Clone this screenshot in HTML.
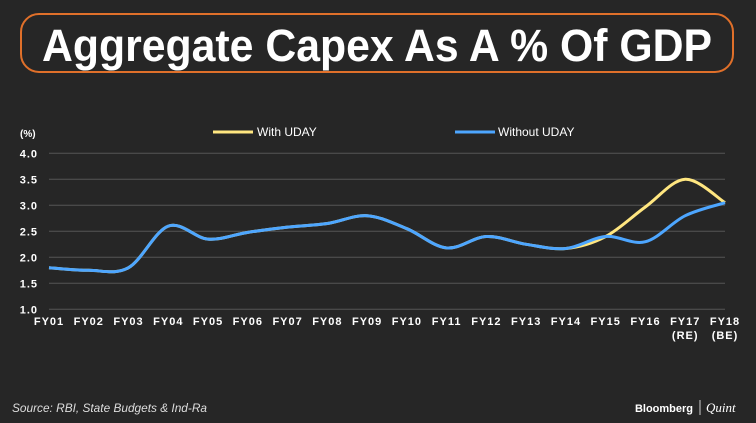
<!DOCTYPE html>
<html><head><meta charset="utf-8"><style>
body{margin:0;background:#262626;width:756px;height:423px;overflow:hidden;font-family:"Liberation Sans",sans-serif;}
</style></head><body>
<svg width="756" height="423" style="display:block">
<rect width="756" height="423" fill="#262626"/>
<rect x="21" y="14" width="712" height="58" rx="18" fill="#262626" stroke="#e0702a" stroke-width="2"/>
<text x="377" y="61" text-anchor="middle" fill="#fff" font-weight="bold" font-size="45" textLength="670" lengthAdjust="spacingAndGlyphs">Aggregate Capex As A % Of GDP</text>
<text x="20" y="137" fill="#fff" font-size="10" font-weight="bold">(%)</text>
<g id="grid"></g><g id="lines"></g>
<line x1="213" y1="132" x2="253" y2="132" stroke="#ffe680" stroke-width="3"/>
<text x="257" y="136" fill="#fff" font-size="12">With UDAY</text>
<line x1="455" y1="132" x2="495" y2="132" stroke="#4da6ff" stroke-width="3"/>
<text x="498" y="136" fill="#fff" font-size="12">Without UDAY</text>
<text x="12" y="412" fill="#ddd" font-size="12" font-style="italic" textLength="195" lengthAdjust="spacingAndGlyphs">Source: RBI, State Budgets &amp; Ind-Ra</text>
<text x="693" y="412" text-anchor="end" fill="#fff" font-size="11" font-weight="bold">Bloomberg</text>
<line x1="700" y1="400" x2="700" y2="415" stroke="#ccc"/>
<text x="706" y="412" fill="#fff" font-size="13" font-style="italic" font-family="Liberation Serif,serif">Quint</text>
</svg>
<script>
const categories=["FY01","FY02","FY03","FY04","FY05","FY06","FY07","FY08","FY09","FY10","FY11","FY12","FY13","FY14","FY15","FY16","FY17","FY18"];
const subLabels={"FY17":"(RE)","FY18":"(BE)"};
const yTicks=[1.0,1.5,2.0,2.5,3.0,3.5,4.0];
const withoutUday=[1.8,1.75,1.8,2.6,2.35,2.48,2.58,2.65,2.8,2.55,2.18,2.4,2.25,2.17,2.4,2.3,2.8,3.05];
const withUday=[1.8,1.75,1.8,2.6,2.35,2.48,2.58,2.65,2.8,2.55,2.18,2.4,2.25,2.17,2.4,2.97,3.5,3.05];
const NS="http://www.w3.org/2000/svg";
const x0=49,x1=725,yTop=153.3,yBot=309.3,ymin=1,ymax=4;
function X(i){return x0+i*(x1-x0)/(categories.length-1);}
function Y(v){return yBot-(v-ymin)/(ymax-ymin)*(yBot-yTop);}
function mk(t,a,p){const e=document.createElementNS(NS,t);for(const k in a)e.setAttribute(k,a[k]);p.appendChild(e);return e;}
const g=document.getElementById('grid');
yTicks.forEach(v=>{
 const l=mk('line',{x1:x0,x2:x1,y1:Y(v),y2:Y(v),stroke:'#555','stroke-width':1},g);
 
 
 const t=mk('text',{x:38,y:Y(v)+4,'text-anchor':'end',fill:'#fff','font-size':11,'font-weight':'bold','letter-spacing':'1'},g);
 t.textContent=v.toFixed(1);
 
 
});
categories.forEach((c,i)=>{
 const t=mk('text',{x:X(i),y:325,'text-anchor':'middle',fill:'#fff','font-size':11,'font-weight':'bold','letter-spacing':'1'},g);
 t.textContent=c;
 
 
 if(subLabels[c]){const s=mk('text',{x:X(i),y:339,'text-anchor':'middle',fill:'#fff','font-size':11,'font-weight':'bold','letter-spacing':'1'},g);
 s.textContent=subLabels[c];
 
 }
});
function path(vals){const p=vals.map((v,i)=>[X(i),Y(v)]);let d=`M${p[0][0]},${p[0][1]}`;
 for(let i=0;i<p.length-1;i++){const a=p[i-1]||p[i],b=p[i],c=p[i+1],e=p[i+2]||c;
  d+=` C${b[0]+(c[0]-a[0])/6},${b[1]+(c[1]-a[1])/6} ${c[0]-(e[0]-b[0])/6},${c[1]-(e[1]-b[1])/6} ${c[0]},${c[1]}`;}return d;}
const lg=document.getElementById('lines');
const w=mk('path',{d:path(withUday),fill:'none',stroke:'#ffe680','stroke-width':3},lg);


const wo=mk('path',{d:path(withoutUday),fill:'none',stroke:'#4da6ff','stroke-width':3},lg);


</script>
</body></html>
